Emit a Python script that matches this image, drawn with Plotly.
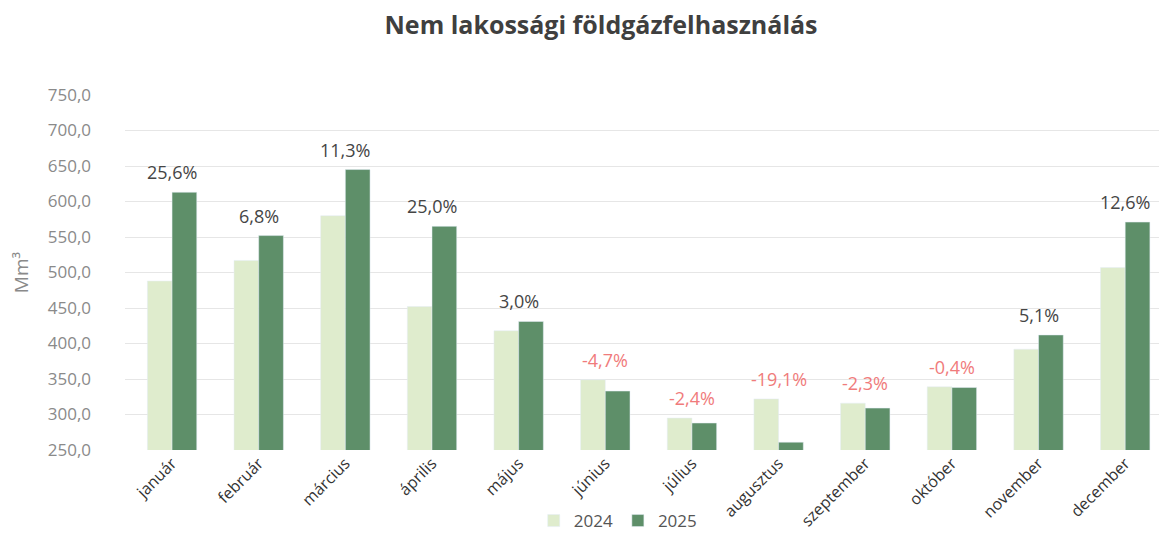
import plotly.graph_objects as go

months = ["január", "február", "március", "április", "május", "június",
          "július", "augusztus", "szeptember", "október", "november", "december"]
v2024 = [488, 517, 580, 452, 418, 349, 295, 322, 316, 339, 392, 507]
v2025 = [613, 552, 645, 565, 431, 333, 288, 261, 309, 338, 412, 571]
changes = ["25,6%", "6,8%", "11,3%", "25,0%", "3,0%", "-4,7%", "-2,4%",
           "-19,1%", "-2,3%", "-0,4%", "5,1%", "12,6%"]
change_vals = [25.6, 6.8, 11.3, 25.0, 3.0, -4.7, -2.4, -19.1, -2.3, -0.4, 5.1, 12.6]

fig = go.Figure()
fig.add_trace(go.Bar(x=months, y=v2024, name="2024", marker_color="#dfeccd"))
fig.add_trace(go.Bar(x=months, y=v2025, name="2025", marker_color="#5e8f69"))

for m, a, b, t, c in zip(months, v2024, v2025, changes, change_vals):
    fig.add_annotation(x=m, y=max(a, b), text=t, showarrow=False,
                       yanchor="bottom", yshift=6,
                       font=dict(size=18, color="#f07b7b" if c < 0 else "#454545",
                                 family="Open Sans"))

fig.update_layout(
    width=1159, height=539,
    margin=dict(l=125, r=0, t=95, b=89, autoexpand=False),
    paper_bgcolor="white", plot_bgcolor="white",
    title=dict(text="<b>Nem lakossági földgázfelhasználás</b>", x=0.5186,
               xref="container", xanchor="center",
               y=0.953, yanchor="middle",
               font=dict(size=25, color="#3f3f3f", family="Open Sans")),
    barmode="group", bargap=0.43, bargroupgap=0,
    separators=",.",
    font=dict(family="Open Sans"),
    legend=dict(orientation="h", x=0.477, xanchor="center", y=-0.2,
                yanchor="middle", font=dict(size=17, color="#555555"),
                traceorder="normal", itemwidth=30),
    showlegend=True,
)
fig.update_yaxes(range=[250, 750], dtick=50, tickformat=".1f",
                 showgrid=True, gridcolor="#e6e6e6", zeroline=False,
                 automargin=False,
                 tickfont=dict(size=17, color="#8a8a8a"),
                 ticklabelstandoff=33,
                 title=dict(text="Mm³", font=dict(size=19, color="#8a8a8a"),
                            standoff=14))
fig.update_xaxes(type="category", range=[-0.543, 11.39], tickangle=-45,
                 automargin=False,
                 tickfont=dict(size=16, color="#333333"),
                 showline=False, ticks="")

fig.write_html("out.html", config={"displayModeBar": False},
               post_script="document.body.style.margin='0';document.body.style.overflow='hidden';")
